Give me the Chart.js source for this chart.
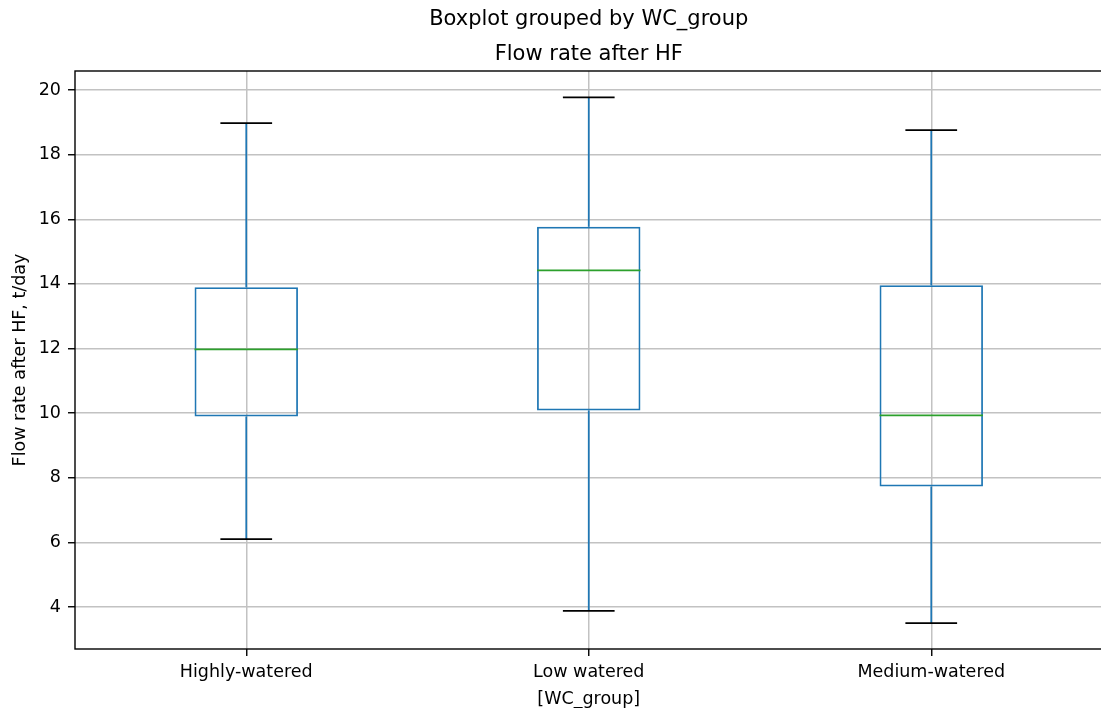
<!DOCTYPE html>
<html>
<head>
<meta charset="utf-8">
<script src="https://cdn.jsdelivr.net/npm/chart.js@4.4.1/dist/chart.umd.min.js"></script>
<style>
  html, body { margin: 0; padding: 0; background: #fff; overflow: hidden; }
  canvas { display: block; }
</style>
</head>
<body>
<canvas id="chart" width="1104" height="708"></canvas>
<script>
// boxplot stats per group
const groups = ['Highly-watered', 'Low watered', 'Medium-watered'];
const lowWhisker = [6.1, 3.88, 3.5];
const q1 = [9.9, 10.08, 7.73];
const medians = [11.97, 14.42, 9.93];
const q3 = [13.9, 15.77, 13.96];
const highWhisker = [18.98, 19.77, 18.76];
const yTicks = [4, 6, 8, 10, 12, 14, 16, 18, 20];

const blue = '#1f77b4';
const green = '#2ca02c';
const gridGrey = '#c2c2c2';

Chart.defaults.font.family = 'DejaVu Sans';
Chart.defaults.color = '#000';

// whiskers, caps, medians and the axes frame
const boxParts = {
  id: 'boxParts',
  afterDatasetsDraw(chart) {
    const ctx = chart.ctx;
    const x = chart.scales.x;
    const y = chart.scales.y;
    const bars = chart.getDatasetMeta(0).data;
    ctx.save();
    groups.forEach((g, i) => {
      const cx = x.getPixelForValue(i);
      const half = bars[i].width / 2;
      const capHalf = half / 2;

      ctx.strokeStyle = blue;
      ctx.lineWidth = 1.75;
      ctx.beginPath();
      ctx.moveTo(cx, y.getPixelForValue(q3[i]));
      ctx.lineTo(cx, y.getPixelForValue(highWhisker[i]));
      ctx.moveTo(cx, y.getPixelForValue(q1[i]));
      ctx.lineTo(cx, y.getPixelForValue(lowWhisker[i]));
      ctx.stroke();

      ctx.strokeStyle = '#000';
      ctx.beginPath();
      [lowWhisker[i], highWhisker[i]].forEach(v => {
        const py = y.getPixelForValue(v);
        ctx.moveTo(cx - capHalf, py);
        ctx.lineTo(cx + capHalf, py);
      });
      ctx.stroke();

      ctx.strokeStyle = green;
      ctx.beginPath();
      const my = y.getPixelForValue(medians[i]);
      ctx.moveTo(cx - half, my);
      ctx.lineTo(cx + half, my);
      ctx.stroke();
    });

    const a = chart.chartArea;
    ctx.strokeStyle = '#000';
    ctx.lineWidth = 1.4;
    ctx.strokeRect(a.left, a.top, a.right - a.left, a.bottom - a.top);
    ctx.restore();
  }
};

new Chart(document.getElementById('chart'), {
  type: 'bar',
  data: {
    labels: groups,
    datasets: [{
      label: 'box',
      data: groups.map((g, i) => [q1[i], q3[i]]),
      backgroundColor: 'rgba(0,0,0,0)',
      borderColor: blue,
      borderWidth: 1.75,
      borderSkipped: false,
      barPercentage: 0.302,
      categoryPercentage: 1
    }]
  },
  options: {
    responsive: false,
    animation: false,
    devicePixelRatio: 1,
    layout: { padding: { left: 0, right: 1.5, top: 0, bottom: 0 } },
    plugins: {
      legend: { display: false },
      tooltip: { enabled: false },
      title: {
        display: true,
        fullSize: false,
        text: ['Boxplot grouped by WC_group', 'Flow rate after HF'],
        color: '#000',
        font: { size: 21, weight: 'normal', lineHeight: 35 / 21 },
        padding: { top: 2.5, bottom: -1.5 }
      }
    },
    scales: {
      x: {
        offset: true,
        grid: { offset: false, color: gridGrey, lineWidth: 1.5, tickColor: '#000', tickLength: 7, tickWidth: 1.4 },
        border: { display: false },
        ticks: { font: { size: 17.5 }, color: '#000', padding: 6 },
        title: {
          display: true,
          text: '[WC_group]',
          color: '#000',
          font: { size: 17.5, lineHeight: 1 },
          padding: { top: 0.5, bottom: 0 }
        },
        afterFit(s) { s.height = 59; }
      },
      y: {
        min: 2.7,
        max: 20.59,
        afterBuildTicks(s) { s.ticks = yTicks.map(v => ({ value: v })); },
        grid: { color: gridGrey, lineWidth: 1.5, tickColor: '#000', tickLength: 7, tickWidth: 1.4 },
        border: { display: false },
        ticks: { font: { size: 17.5 }, color: '#000', padding: 7 },
        title: {
          display: true,
          text: 'Flow rate after HF, t/day',
          color: '#000',
          font: { size: 17.5, lineHeight: 1.2 },
          padding: { top: 10, bottom: 0 }
        },
        afterFit(s) { s.width = 75; }
      }
    }
  },
  plugins: [boxParts]
});
</script>
</body>
</html>
